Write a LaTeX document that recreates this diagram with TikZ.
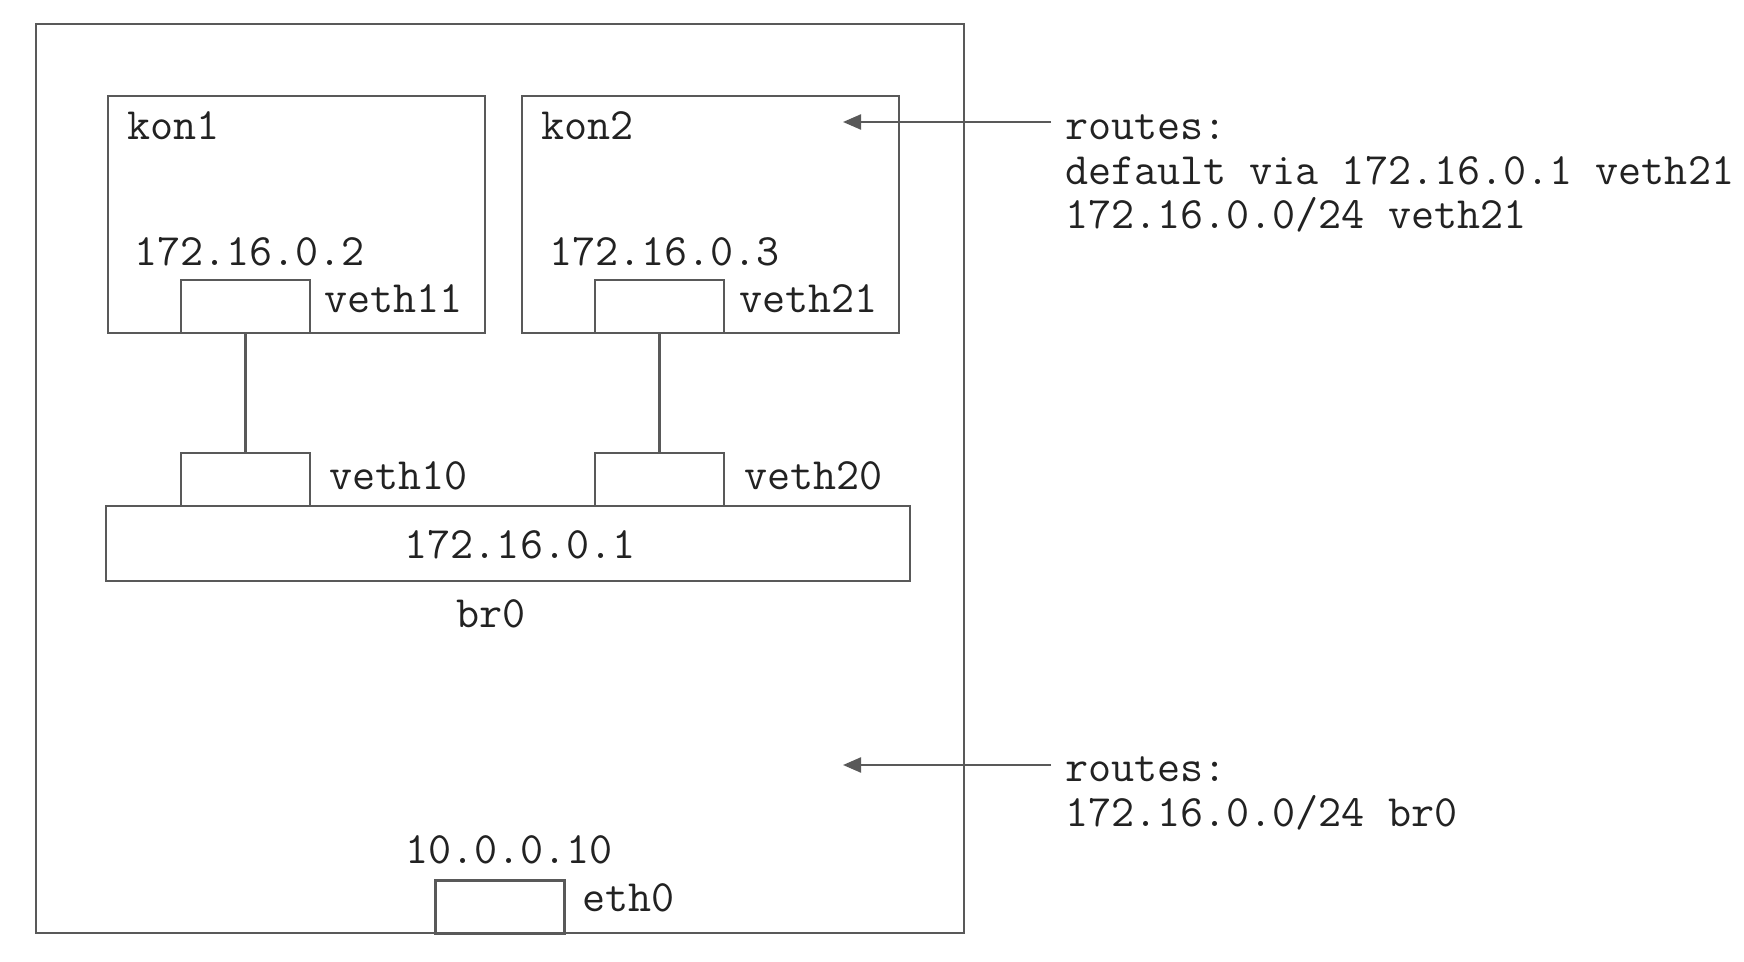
\documentclass[tikz,border=0pt]{standalone}
\usepackage{fontspec}
\usetikzlibrary{arrows.meta,positioning}
\definecolor{netline}{RGB}{89,89,89}
\definecolor{nettext}{RGB}{34,34,34}

\begin{document}
\begin{tikzpicture}[
    x=0.5pt, y=-0.5pt,
    line width=1.1pt,
    every node/.style={font=\ttfamily\fontsize{22.4}{22.25}\selectfont, text=nettext},
    frame/.style={rectangle, draw=netline, fill=white, inner sep=0pt},
    port/.style={frame, minimum width=64.5pt, minimum height=26.5pt},
    lbl/.style={anchor=base west, inner sep=0pt},
    route/.style={lbl, align=left},
    link/.style={draw=netline},
    hint/.style={draw=netline, -{Triangle[length=9pt,width=7.5pt]}}
]
    \useasboundingbox (0,0) rectangle (1744,962);

    % host and containers
    \node[frame, minimum width=464pt, minimum height=454.5pt] (host) at (500,478.5) {};
    \node[frame, minimum width=188.5pt, minimum height=118.5pt] (kon1) at (296.5,214.5) {};
    \node[frame, minimum width=188.5pt, minimum height=118.5pt] (kon2) at (710.5,214.5) {};

    % interfaces
    \node[port] (veth11) at (245.5,306.5) {};
    \node[port] (veth21) at (659.5,306.5) {};
    \node[port] (veth10) at (245.5,479.5) {};
    \node[port] (veth20) at (659.5,479.5) {};
    \node[frame, minimum width=402pt, minimum height=37.5pt] (br0) at (508,543.5) {};
    \node[port] (eth0) at (500,907) {};

    % labels
    \node[lbl] (kon1name) at (126,140) {kon1};
    \node[lbl] (kon2name) at (540,140) {kon2};
    \node[lbl] (ip2) at (133,266) {172.16.0.2};
    \node[lbl] (ip3) at (548,266) {172.16.0.3};
    \node[lbl] (veth11name) at (323,313) {veth11};
    \node[lbl] (veth21name) at (738,313) {veth21};
    \node[lbl] (veth10name) at (328,489) {veth10};
    \node[lbl] (veth20name) at (743,489) {veth20};
    \node[anchor=base, inner sep=0pt] (ip1) at (520,558) {172.16.0.1};
    \node[lbl] (br0name) at (455,627) {br0};
    \node[lbl] (ipeth) at (404,863) {10.0.0.10};
    \node[lbl] (eth0name) at (581,911) {eth0};

    % routing tables (base = last line)
    \node[route] (routes2) at (1064,229) {routes:\\default via 172.16.0.1 veth21\\172.16.0.0/24 veth21};
    \node[route] (routeshost) at (1064,826) {routes:\\172.16.0.0/24 br0};

    \coordinate (r2from) at (1051,122);
    \coordinate (r2to) at (843,122);
    \coordinate (rhfrom) at (1051,765);
    \coordinate (rhto) at (843,765);

    \draw[link] (veth11) -- (veth10);
    \draw[link] (veth21) -- (veth20);
    \draw[hint] (r2from) -- (r2to);
    \draw[hint] (rhfrom) -- (rhto);
\end{tikzpicture}
\end{document}
